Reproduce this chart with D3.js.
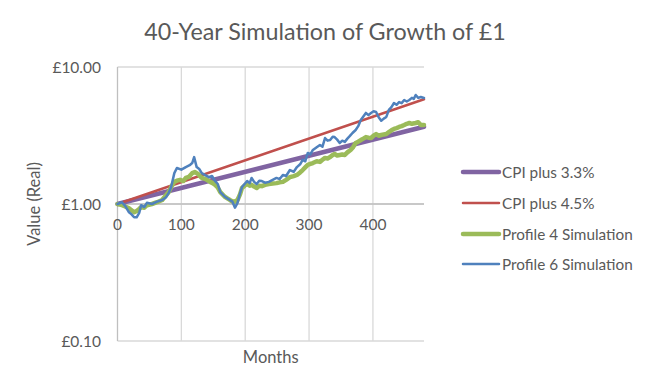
<!DOCTYPE html>
<html><head><meta charset="utf-8">
<script src="https://cdn.jsdelivr.net/npm/d3@7"></script>
<style>
html,body{margin:0;padding:0;background:#fff;}
svg{display:block;font-family:Lato,"Open Sans",sans-serif;}
</style></head>
<body><svg id="c" width="650" height="390"></svg>
<script>
const title = "40-Year Simulation of Growth of £1";
const xTicks = [0, 100, 200, 300, 400];
const yTicks = [0.1, 1, 10];
const yTickLabels = ["£0.10", "£1.00", "£10.00"];
const seriesNames = ["CPI plus 3.3%", "CPI plus 4.5%", "Profile 4 Simulation", "Profile 6 Simulation"];

const cpi33Months = [0, 480];
const cpi33Values = [1.00, 3.66];
const cpi45Months = [0, 480];
const cpi45Values = [1.00, 5.82];

const p6Months = [0,7,12,18,22,26,30,34,37,42,46,54,62,70,76,80,84,89,93,100,107,113,117,120,124,128,132,138,143,148,153,157,161,168,172,176,180,184,188,192,195,199,203,207,210,214,218,222,226,231,237,243,249,254,259,264,270,276,281,286,290,294,298,302,306,312,317,321,325,329,333,337,340,344,348,352,356,360,364,368,373,377,381,385,389,393,397,401,405,409,413,417,421,425,429,433,437,441,445,449,453,457,461,464,467,471,475,480];
const p6Values  = [1.00,1.03,0.97,0.87,0.84,0.80,0.80,0.86,0.98,0.95,1.02,1.00,1.04,1.07,1.12,1.20,1.33,1.68,1.83,1.78,1.86,1.92,1.99,2.20,1.86,1.80,1.68,1.62,1.57,1.60,1.47,1.40,1.22,1.13,1.10,1.07,1.04,0.94,1.02,1.20,1.33,1.40,1.47,1.42,1.55,1.45,1.40,1.48,1.47,1.43,1.45,1.50,1.55,1.52,1.63,1.60,1.77,1.72,1.86,1.95,2.10,2.05,2.36,2.30,2.48,2.60,2.70,2.62,3.03,2.90,2.93,3.10,3.08,2.95,2.79,2.90,2.84,3.00,3.14,3.30,3.47,3.70,4.10,4.35,4.62,4.45,4.62,4.75,4.69,4.30,4.05,4.20,4.32,4.86,5.10,5.46,5.30,5.55,5.45,5.74,5.60,5.74,5.95,5.85,6.25,5.95,6.04,5.94];

const p4Months = [0,7,12,18,22,26,30,34,37,42,46,54,62,70,76,80,84,89,93,98,103,107,112,117,121,126,132,138,145,149,153,157,161,168,172,176,182,188,192,195,199,203,207,210,214,218,222,226,231,237,243,249,254,259,264,270,276,281,286,290,294,298,302,306,312,317,321,325,329,333,337,340,344,348,352,356,360,365,369,373,377,381,385,389,393,397,401,405,409,413,417,421,425,429,433,437,441,445,449,453,457,461,467,471,475,480];
const p4Values  = [1.00,0.98,0.96,0.93,0.90,0.87,0.89,0.92,0.95,0.94,0.98,1.00,1.03,1.07,1.16,1.22,1.33,1.45,1.48,1.50,1.47,1.55,1.58,1.68,1.71,1.66,1.55,1.52,1.45,1.42,1.38,1.32,1.22,1.13,1.10,1.07,1.03,1.07,1.18,1.31,1.36,1.40,1.36,1.38,1.34,1.31,1.36,1.35,1.38,1.40,1.41,1.42,1.44,1.45,1.50,1.57,1.60,1.63,1.70,1.77,1.85,1.93,1.96,1.99,2.05,2.03,2.10,2.17,2.15,2.20,2.28,2.32,2.26,2.28,2.30,2.28,2.38,2.48,2.60,2.79,2.85,2.93,3.00,3.08,3.05,3.03,3.15,3.24,3.15,3.19,3.22,3.24,3.35,3.45,3.53,3.58,3.65,3.70,3.77,3.85,3.90,3.85,3.90,3.95,3.77,3.77];

const colors = ["#8064A2", "#C0504D", "#9BBB59", "#4F81BD"];
const widths = [4.5, 2.5, 4.5, 2.5];

const svg = d3.select("#c");
const m = {left:117.5, right:424, top:67, bottom:341};
const x = d3.scaleLinear().domain([0,480]).range([m.left, m.right]);
const y = d3.scaleLog().domain([0.1,10]).range([m.bottom, m.top]);

svg.append("text").attr("x",325).attr("y",40).attr("text-anchor","middle")
  .attr("font-size",23.3).attr("fill","#595959").text(title);

// gridlines
svg.append("g").selectAll("line").data(xTicks.filter(d=>d>0)).join("line")
  .attr("x1",d=>x(d)).attr("x2",d=>x(d)).attr("y1",m.top).attr("y2",m.bottom)
  .attr("stroke","#d9d9d9").attr("stroke-width",1.3);
svg.append("g").selectAll("line").data(yTicks).join("line")
  .attr("x1",m.left).attr("x2",m.right).attr("y1",d=>y(d)).attr("y2",d=>y(d))
  .attr("stroke","#d9d9d9").attr("stroke-width",1.3);
// left axis
svg.append("line").attr("x1",m.left).attr("x2",m.left).attr("y1",m.top).attr("y2",m.bottom)
  .attr("stroke","#bfbfbf").attr("stroke-width",1.3);
// x axis at 1
svg.append("line").attr("x1",m.left).attr("x2",m.right).attr("y1",y(1)).attr("y2",y(1))
  .attr("stroke","#bfbfbf").attr("stroke-width",1.3);

svg.append("g").selectAll("text").data(yTicks).join("text")
  .attr("x",101).attr("y",d=>y(d)+5.5).attr("text-anchor","end")
  .attr("font-size",15.5).attr("fill","#595959").text((d,i)=>yTickLabels[i]);
svg.append("g").selectAll("text").data(xTicks).join("text")
  .attr("x",d=>x(d)).attr("y",y(1)+26).attr("text-anchor","middle")
  .attr("font-size",15.5).attr("fill","#595959").text(d=>d);

svg.append("text").attr("transform",`translate(40,${y(1)}) rotate(-90)`)
  .attr("text-anchor","middle").attr("font-size",16.5).attr("fill","#595959").text("Value (Real)");
svg.append("text").attr("x",x(240)).attr("y",363).attr("text-anchor","middle")
  .attr("font-size",16.5).attr("fill","#595959").text("Months");

svg.append("clipPath").attr("id","clip").append("rect")
  .attr("x",m.left-3).attr("y",m.top).attr("width",m.right-m.left+6).attr("height",m.bottom-m.top);

const series = [
  cpi33Months.map((d,i)=>[d,cpi33Values[i]]),
  cpi45Months.map((d,i)=>[d,cpi45Values[i]]),
  p4Months.map((d,i)=>[d,p4Values[i]]),
  p6Months.map((d,i)=>[d,p6Values[i]])
];
const line = d3.line().x(d=>x(d[0])).y(d=>y(d[1]));
const g = svg.append("g").attr("clip-path","url(#clip)");
series.forEach((s,i)=>{
  g.append("path").attr("d",line(s)).attr("fill","none")
   .attr("stroke",colors[i]).attr("stroke-width",widths[i])
   .attr("stroke-linejoin","round").attr("stroke-linecap","round");
});

// legend
const leg = svg.append("g");
const legY = [172, 203, 234, 264];
seriesNames.forEach((n,i)=>{
  leg.append("line").attr("x1",463).attr("x2",499).attr("y1",legY[i]).attr("y2",legY[i])
    .attr("stroke",colors[i]).attr("stroke-width",widths[i]).attr("stroke-linecap","round");
  leg.append("text").attr("x",502).attr("y",legY[i]+5.5).attr("font-size",15.3)
    .attr("fill","#595959").text(n);
});
</script></body></html>
